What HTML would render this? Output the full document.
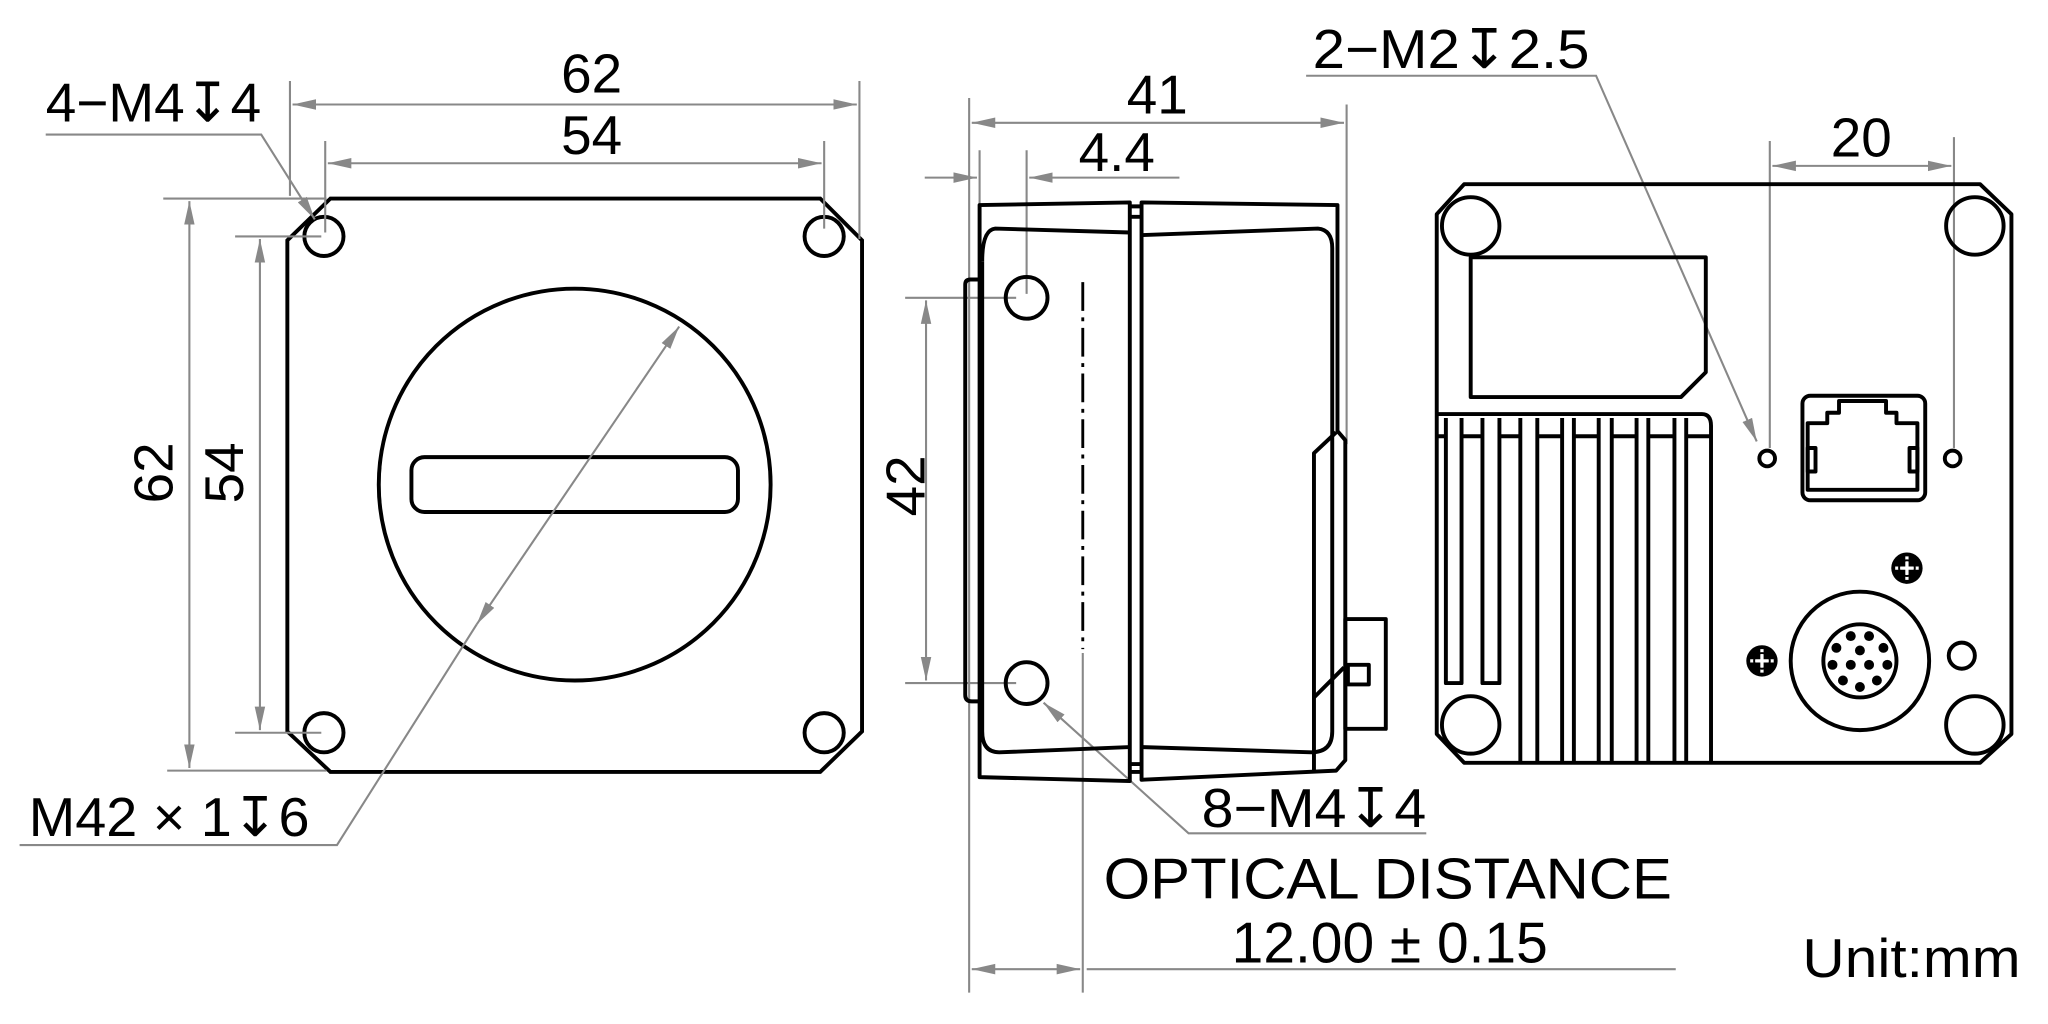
<!DOCTYPE html>
<html><head><meta charset="utf-8"><style>
html,body{margin:0;padding:0;background:#fff;}
svg{display:block;}
text{font-family:"Liberation Sans","DejaVu Sans",sans-serif;fill:#000;}
</style></head><body>
<svg width="2048" height="1024" viewBox="0 0 1568 784" preserveAspectRatio="none" xmlns="http://www.w3.org/2000/svg">
<defs>
<marker id="a" markerUnits="userSpaceOnUse" markerWidth="20" markerHeight="10" refX="18" refY="5" orient="auto-start-reverse">
<path d="M0,1 L18,5 L0,9 Z" fill="#888"/>
</marker>
</defs>
<rect width="1568" height="784" fill="#fff"/>

<g fill="none" stroke="#000" stroke-width="3">
<path d="M253,152 H628 L660,184 V560 L628,591 H253 L220,560 V184 Z"/>
<circle cx="248" cy="181" r="15"/>
<circle cx="631" cy="181" r="15"/>
<circle cx="248" cy="561" r="15"/>
<circle cx="631" cy="561" r="15"/>
<circle cx="440" cy="371" r="150"/>
<rect x="315" y="350" width="250" height="42" rx="10"/>
</g>
<g fill="none" stroke="#888" stroke-width="1.6">
<line x1="222" y1="62" x2="222" y2="150"/>
<line x1="658" y1="62" x2="658" y2="183"/>
<line x1="224" y1="80" x2="656" y2="80" marker-start="url(#a)" marker-end="url(#a)"/>
<line x1="249" y1="108" x2="249" y2="178"/>
<line x1="631" y1="108" x2="631" y2="175"/>
<line x1="251" y1="125" x2="629" y2="125" marker-start="url(#a)" marker-end="url(#a)"/>
<line x1="125" y1="152" x2="250" y2="152"/>
<line x1="128" y1="590" x2="250" y2="590"/>
<line x1="145" y1="154" x2="145" y2="588" marker-start="url(#a)" marker-end="url(#a)"/>
<line x1="180" y1="181" x2="246" y2="181"/>
<line x1="180" y1="561" x2="246" y2="561"/>
<line x1="199" y1="183" x2="199" y2="559" marker-start="url(#a)" marker-end="url(#a)"/>
<polyline points="35,103 200,103 241,168" marker-end="url(#a)"/>
<polyline points="15,647 258,647 365,478"/>
<line x1="365" y1="478" x2="520" y2="250" marker-start="url(#a)" marker-end="url(#a)"/>
</g>
<text x="453" y="71" font-size="42" text-anchor="middle">62</text>
<text x="453" y="118" font-size="42" text-anchor="middle">54</text>
<text transform="translate(132,362) rotate(-90)" font-size="42" text-anchor="middle">62</text>
<text transform="translate(186,362) rotate(-90)" font-size="42" text-anchor="middle">54</text>
<text x="35" y="93" font-size="42" textLength="165" lengthAdjust="spacingAndGlyphs">4−M4↧4</text>
<text x="22" y="640" font-size="42" textLength="215" lengthAdjust="spacingAndGlyphs">M42 × 1↧6</text>

<g fill="none" stroke="#888" stroke-width="1.6">
<line x1="742" y1="75" x2="742" y2="760"/>
<line x1="1031" y1="80" x2="1031" y2="340"/>
<line x1="744" y1="94" x2="1029" y2="94" marker-start="url(#a)" marker-end="url(#a)"/>
<line x1="750" y1="115" x2="750" y2="170"/>
<line x1="786" y1="115" x2="786" y2="225"/>
<line x1="708" y1="136" x2="748" y2="136" marker-end="url(#a)"/>
<line x1="903" y1="136" x2="788" y2="136" marker-end="url(#a)"/>
<line x1="693" y1="228" x2="778" y2="228"/>
<line x1="693" y1="523" x2="778" y2="523"/>
<line x1="709" y1="230" x2="709" y2="521" marker-start="url(#a)" marker-end="url(#a)"/>
<polyline points="1092,638 910,638 799,538" marker-end="url(#a)"/>
<line x1="829" y1="500" x2="829" y2="760"/>
<line x1="744" y1="742" x2="827" y2="742" marker-start="url(#a)" marker-end="url(#a)"/>
<line x1="832" y1="742" x2="1283" y2="742"/>
</g>
<g fill="none" stroke="#000" stroke-width="3" stroke-linejoin="round">
<path d="M749,214 H743 Q739,214 739,218 V532 Q739,537 744,537 H749"/>
<path d="M750,157 L865,155 V598 L750,595 Z"/>
<path d="M752,200 Q752,176 762,175 L865,178"/>
<path d="M752,200 V560 Q752,576 765,576 L865,572"/>
<path d="M865,158 H874 M865,166 H874 M865,591 H874 M865,585 H874"/>
<path d="M874,155 L1024,157 V330 L1030,337 V582 L1023,590 L874,597 Z"/>
<path d="M874,180 L1009,175 Q1020,176 1020,190 V560 Q1020,576 1004,576 L874,572"/>
<path d="M1023,331 L1006,347 V592"/>
<path d="M1006,534 L1029,511"/>
<rect x="1030" y="474" width="31" height="84"/>
<rect x="1032" y="509" width="16" height="15"/>
<circle cx="786" cy="228" r="16"/>
<circle cx="786" cy="523" r="16"/>
</g>
<line x1="829" y1="216" x2="829" y2="497" stroke="#000" stroke-width="2.2" stroke-dasharray="22,5,3,5"/>
<text x="886" y="87" font-size="42" text-anchor="middle">41</text>
<text x="855" y="131" font-size="42" text-anchor="middle">4.4</text>
<text transform="translate(708,372) rotate(-90)" font-size="42" text-anchor="middle">42</text>
<text x="920" y="633" font-size="42" textLength="172" lengthAdjust="spacingAndGlyphs">8−M4↧4</text>
<text x="845" y="688" font-size="44" textLength="435" lengthAdjust="spacingAndGlyphs">OPTICAL DISTANCE</text>
<text x="943" y="737" font-size="44" textLength="242" lengthAdjust="spacingAndGlyphs">12.00 ± 0.15</text>
<text x="1380" y="748" font-size="42" textLength="167" lengthAdjust="spacingAndGlyphs">Unit:mm</text>

<g fill="none" stroke="#888" stroke-width="1.6">
<line x1="1355" y1="108" x2="1355" y2="343"/>
<line x1="1496" y1="105" x2="1496" y2="343"/>
<line x1="1357" y1="127" x2="1494" y2="127" marker-start="url(#a)" marker-end="url(#a)"/>
<polyline points="1000,58 1222,58 1345,338" marker-end="url(#a)"/>
</g>
<text x="1425" y="120" font-size="42" text-anchor="middle">20</text>
<text x="1005" y="52" font-size="42" textLength="212" lengthAdjust="spacingAndGlyphs">2−M2↧2.5</text>
<g fill="none" stroke="#000" stroke-width="3" stroke-linejoin="round">
<path d="M1121,141 H1516 L1540,164 V562 L1516,584 H1121 L1100,562 V164 Z"/>
<circle cx="1126" cy="173" r="22"/>
<circle cx="1512" cy="173" r="22"/>
<circle cx="1126" cy="555" r="22"/>
<circle cx="1512" cy="555" r="22"/>
<path d="M1126,197 H1306 V285 L1287,304 H1126 Z"/>
<path d="M1100,317 H1303 Q1310,317 1310,326 V584"/>
<path d="M1100,334 H1106 M1119,334 H1135 M1148,334 H1164 M1177,334 H1196 M1205,334 H1224 M1234,334 H1253 M1262,334 H1281 M1291,334 H1310"/>
<path d="M1107,320 V523 H1119 V320"/>
<path d="M1135,320 V523 H1148 V320"/>
<path d="M1164,320 V584 M1177,320 V584"/>
<path d="M1196,320 V584 M1205,320 V584"/>
<path d="M1224,320 V584 M1234,320 V584"/>
<path d="M1253,320 V584 M1262,320 V584"/>
<path d="M1282,320 V584 M1291,320 V584"/>
<rect x="1380" y="303" width="94" height="80" rx="6"/>
<path d="M1384,375 V324 H1399 V316 H1408 V307 H1444 V316 H1452 V324 H1468 V375 Z"/>
<rect x="1384" y="343" width="6" height="18"/>
<rect x="1462" y="343" width="6" height="18"/>
<circle cx="1353" cy="351" r="6"/>
<circle cx="1495" cy="351" r="6"/>
<circle cx="1424" cy="506" r="53"/>
<circle cx="1424" cy="506" r="28"/>
<circle cx="1502" cy="502" r="10"/>
</g>
<g fill="#000">
<circle cx="1417" cy="487" r="3.8"/><circle cx="1431" cy="487" r="3.8"/>
<circle cx="1406" cy="496" r="3.8"/><circle cx="1442" cy="496" r="3.8"/>
<circle cx="1424" cy="498" r="3.8"/>
<circle cx="1403" cy="509" r="3.8"/><circle cx="1417" cy="509" r="3.8"/>
<circle cx="1431" cy="509" r="3.8"/><circle cx="1445" cy="509" r="3.8"/>
<circle cx="1411" cy="521" r="3.8"/><circle cx="1437" cy="521" r="3.8"/>
<circle cx="1424" cy="526" r="3.8"/>
<circle cx="1460" cy="435" r="12"/>
<circle cx="1349" cy="506" r="12"/>
</g>
<g stroke="#fff" stroke-width="2.5">
<path d="M1460,426 V444 M1451,435 H1469"/>
<path d="M1349,497 V515 M1340,506 H1358"/>
</g>
<g fill="none" stroke="#000" stroke-width="1.5">
<circle cx="1460" cy="435" r="6"/>
<circle cx="1349" cy="506" r="6"/>
</g>
</svg>
</body></html>
